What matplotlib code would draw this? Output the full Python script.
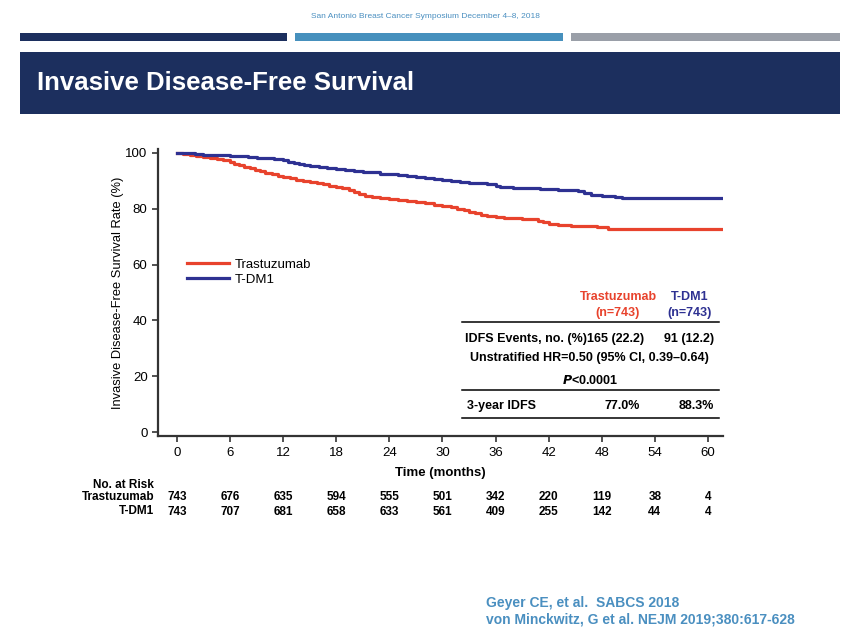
import matplotlib
matplotlib.use("Agg")
import matplotlib.pyplot as plt
import matplotlib.transforms as mtransforms
from matplotlib.patches import Rectangle
from matplotlib.lines import Line2D

plt.rcParams['font.family'] = ['Liberation Sans', 'DejaVu Sans']
NARROW = ['Liberation Sans Narrow', 'Liberation Sans', 'DejaVu Sans']

# --- data ---
tras_t = [0, 0.7, 1.5, 2.2, 3, 3.7, 4.5, 5.2, 6, 6.5, 7, 7.6, 8.2, 8.8, 9.4, 10, 10.7, 11.4, 12,
          12.8, 13.5, 14.2, 15, 15.8, 16.5, 17.2, 18, 18.7, 19.4, 20, 20.6, 21.2, 22, 23, 24,
          25, 26, 27, 28, 29, 30, 31, 31.7, 32.4, 33, 33.7, 34.4, 35, 36, 37, 38, 39, 40, 40.8,
          41.4, 42, 43, 44.5, 46, 47.5, 48.7, 61.6]
tras_s = [100, 99.7, 99.3, 99.0, 98.7, 98.3, 97.9, 97.5, 96.9, 96.2, 95.5, 95.0, 94.6, 94.0,
          93.5, 92.8, 92.3, 91.9, 91.5, 91.0, 90.4, 90.0, 89.6, 89.2, 88.7, 88.2, 87.8, 87.3,
          86.6, 85.9, 85.2, 84.6, 84.3, 83.7, 83.4, 83.2, 82.7, 82.3, 81.9, 81.5, 81.0, 80.6,
          80.0, 79.4, 78.8, 78.3, 77.8, 77.4, 77.0, 76.8, 76.6, 76.4, 76.2, 75.6, 75.1, 74.6,
          74.1, 73.9, 73.7, 73.4, 72.8, 72.8]
tdm1_t = [0, 1, 2, 3, 4, 5, 6, 7, 8, 9, 10, 11, 12, 12.6, 13.2, 13.8, 14.4, 15, 16, 17, 18, 19,
          20, 21, 22, 23, 24, 25, 26, 27, 28, 29, 30, 31, 32, 33, 34, 35, 36, 36.5, 38, 40, 41,
          43, 44.6, 45.3, 46, 46.8, 48, 49.5, 50.3, 61.6]
tdm1_s = [100, 99.8, 99.6, 99.4, 99.3, 99.1, 99.0, 98.8, 98.5, 98.3, 98.1, 97.7, 97.3, 96.9,
          96.5, 96.1, 95.7, 95.2, 94.9, 94.6, 94.3, 93.9, 93.6, 93.3, 93.0, 92.6, 92.3, 92.1,
          91.6, 91.2, 90.9, 90.6, 90.3, 90.0, 89.7, 89.4, 89.1, 88.7, 88.3, 87.9, 87.6, 87.4,
          87.0, 86.8, 86.7, 86.2, 85.6, 85.0, 84.7, 84.3, 83.8, 83.8]

risk_months = [0, 6, 12, 18, 24, 30, 36, 42, 48, 54, 60]
risk_tras = [743, 676, 635, 594, 555, 501, 342, 220, 119, 38, 4]
risk_tdm1 = [743, 707, 681, 658, 633, 561, 409, 255, 142, 44, 4]

RED = "#e8432d"
BLUE = "#2e3192"
NAVY = "#1c2f5e"
LBLUE = "#4690bd"
GRAY = "#9a9fa8"
CITE = "#4a8fc0"

W, H = 856, 644
fig = plt.figure(figsize=(W / 100, H / 100), dpi=100)


def fx(x):
    return x / W


def fy(y):
    return 1 - y / H


# header
fig.text(fx(425), fy(17), "San Antonio Breast Cancer Symposium December 4\u20138, 2018",
         ha="center", va="center", fontsize=6, color=CITE, family=NARROW)
for x0, x1, c in [(20, 287, NAVY), (295, 563, LBLUE), (571, 840, GRAY)]:
    fig.add_artist(Rectangle((fx(x0), fy(41)), fx(x1 - x0), 8 / H, color=c,
                             transform=fig.transFigure, lw=0))
fig.add_artist(Rectangle((fx(20), fy(114)), fx(820), 62 / H, color=NAVY,
                         transform=fig.transFigure, lw=0))
fig.text(fx(37), fy(83), "Invasive Disease-Free Survival", ha="left", va="center",
         fontsize=18.5, color="white", fontweight="bold")

# main axes
ax = fig.add_axes([fx(158), fy(436), fx(723 - 158), (436 - 149) / H])
ax.step(tras_t, tras_s, where="post", color=RED, lw=2.3, label="Trastuzumab")
ax.step(tdm1_t, tdm1_s, where="post", color=BLUE, lw=2.3, label="T-DM1")
ax.set_xlim(-2.14, 61.7)
ax.set_ylim(-1.4, 101.4)
ax.set_xticks(risk_months)
ax.set_yticks([0, 20, 40, 60, 80, 100])
for s in ["top", "right"]:
    ax.spines[s].set_visible(False)
for s in ["left", "bottom"]:
    ax.spines[s].set_color("#333333")
    ax.spines[s].set_linewidth(1.6)
ax.tick_params(axis="both", direction="out", length=4, width=1.2, color="#333333",
               labelsize=9.5, labelcolor="black")
ax.tick_params(axis="x", pad=4)
ax.set_xlabel("Time (months)", fontsize=9.5, fontweight="bold", labelpad=6)
ax.set_ylabel("Invasive Disease-Free Survival Rate (%)", fontsize=9.3, labelpad=1)

leg = ax.legend(loc="upper left", bbox_to_anchor=(0.03, 0.66), frameon=False,
                fontsize=9.5, handlelength=3.2, handletextpad=0.4, labelspacing=0.2)

# stats table
fig.text(fx(618), fy(297), "Trastuzumab", color=RED, fontsize=9, fontweight="bold",
         ha="center", va="center")
fig.text(fx(618), fy(313), "(n=743)", color=RED, fontsize=9, fontweight="bold",
         ha="center", va="center")
fig.text(fx(690), fy(297), "T-DM1", color=BLUE, fontsize=9, fontweight="bold",
         ha="center", va="center")
fig.text(fx(690), fy(313), "(n=743)", color=BLUE, fontsize=9, fontweight="bold",
         ha="center", va="center")
for yy in [322, 390, 418]:
    fig.add_artist(Line2D([fx(462), fx(719)], [fy(yy), fy(yy)], color="black", lw=1.1,
                          transform=fig.transFigure))
fig.text(fx(465), fy(339), "IDFS Events, no. (%)165 (22.2)", fontsize=9, fontweight="bold",
         ha="left", va="center")
fig.text(fx(714), fy(339), "91 (12.2)", fontsize=9, fontweight="bold", ha="right", va="center")
fig.text(fx(470), fy(358), "Unstratified HR=0.50 (95% CI, 0.39\u20130.64)", fontsize=9,
         fontweight="bold", ha="left", va="center")
fig.text(fx(590), fy(381), r"$\mathbfit{P}$<0.0001", fontsize=9, fontweight="bold",
         ha="center", va="center")
fig.text(fx(467), fy(406), "3-year IDFS", fontsize=9, fontweight="bold", ha="left", va="center")
fig.text(fx(640), fy(406), "77.0%", fontsize=9, fontweight="bold", ha="right", va="center")
fig.text(fx(714), fy(406), "88.3%", fontsize=9, fontweight="bold", ha="right", va="center")

# number at risk
trans = mtransforms.blended_transform_factory(ax.transData, fig.transFigure)
fig.text(fx(154), fy(485), "No. at Risk", fontsize=8.5, fontweight="bold", ha="right",
         va="center", family=NARROW)
fig.text(fx(154), fy(497), "Trastuzumab", fontsize=8.5, fontweight="bold", ha="right",
         va="center", family=NARROW)
fig.text(fx(154), fy(511), "T-DM1", fontsize=8.5, fontweight="bold", ha="right",
         va="center", family=NARROW)
for m, a, b in zip(risk_months, risk_tras, risk_tdm1):
    ax.text(m, fy(497), str(a), transform=trans, fontsize=8.5, fontweight="bold",
            ha="center", va="center", family=NARROW)
    ax.text(m, fy(512), str(b), transform=trans, fontsize=8.5, fontweight="bold",
            ha="center", va="center", family=NARROW)

# citation
fig.text(fx(486), fy(603), "Geyer CE, et al.  SABCS 2018", fontsize=10, fontweight="bold",
         color=CITE, ha="left", va="center")
fig.text(fx(486), fy(620), "von Minckwitz, G et al. NEJM 2019;380:617-628", fontsize=10,
         fontweight="bold", color=CITE, ha="left", va="center")

fig.savefig("out.png", dpi=100)
